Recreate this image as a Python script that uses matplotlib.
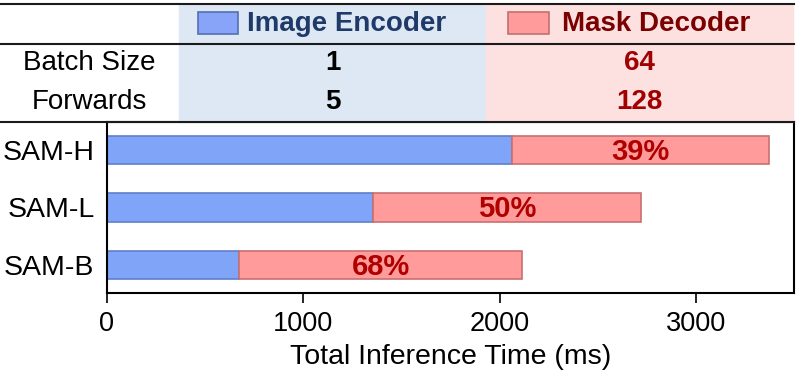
import numpy as np
import matplotlib.pyplot as plt
from matplotlib.patches import Rectangle
from matplotlib.lines import Line2D

plt.rcParams['font.family'] = ['Liberation Sans', 'DejaVu Sans']

# data
models = ['SAM-H', 'SAM-L', 'SAM-B']
encoder_ms = [2063, 1355, 672]
decoder_ms = [1311, 1364, 1443]
row_names = ['Batch Size', 'Forwards']
encoder_cfg = ['1', '5']
decoder_cfg = ['64', '128']

W, H = 798, 373
fig = plt.figure(figsize=(W / 100, H / 100), dpi=100)

def fx(px):
    return px / W

def fy(py):
    return 1 - py / H

ax = fig.add_axes([fx(107), fy(293), fx(794) - fx(107), fy(122) - fy(293)])

blue = '#80a4f8'
blue_edge = '#5f80c8'
red = '#ff9b9b'
red_edge = '#c87070'

y = np.arange(len(models))
ax.barh(y, encoder_ms, height=0.5, color=blue, edgecolor=blue_edge, linewidth=1.2)
ax.barh(y, decoder_ms, left=encoder_ms, height=0.5, color=red, edgecolor=red_edge, linewidth=1.2)

for i in range(len(models)):
    total = encoder_ms[i] + decoder_ms[i]
    pct = round(100 * decoder_ms[i] / total)
    ax.text(encoder_ms[i] + decoder_ms[i] / 2, y[i] + 0.03, f'{pct}%', ha='center', va='center',
            fontsize=21, fontweight='bold', color='#b00000')

ax.set_xlim(0, 3500)
ax.set_ylim(2.49, -0.49)
ax.set_yticks(y)
ax.set_yticklabels(models, fontsize=20.5)
ax.set_xticks([0, 1000, 2000, 3000])
ax.tick_params(axis='x', labelsize=19.5, length=7, width=1.2, pad=6)
ax.tick_params(axis='y', length=0, pad=9)
ax.set_xlabel('Total Inference Time (ms)', fontsize=20.5, labelpad=5)
for s in ax.spines.values():
    s.set_linewidth(1.5)

# header table
fig.patches.append(Rectangle((fx(179), fy(122)), fx(486) - fx(179), fy(4) - fy(122),
                             transform=fig.transFigure, color='#dde8f4', zorder=0))
fig.patches.append(Rectangle((fx(486), fy(122)), fx(793) - fx(486), fy(4) - fy(122),
                             transform=fig.transFigure, color='#fde0e0', zorder=0))
for py in [4, 43.5, 122]:
    fig.lines.append(Line2D([0, fx(794)], [fy(py), fy(py)], transform=fig.transFigure,
                            color='#1a1a1a', linewidth=1.5))

# legend-like header
fig.patches.append(Rectangle((fx(198), fy(34)), fx(238) - fx(198), fy(12) - fy(34),
                             transform=fig.transFigure, facecolor='#87a4f8', edgecolor='#5470b0', linewidth=1.2))
fig.patches.append(Rectangle((fx(508), fy(34)), fx(549) - fx(508), fy(12) - fy(34),
                             transform=fig.transFigure, facecolor='#ff9b9b', edgecolor='#c07070', linewidth=1.2))
fig.text(fx(247), fy(31), 'Image Encoder', fontsize=20, fontweight='bold', color='#1f3a68', va='baseline')
fig.text(fx(562), fy(31), 'Mask Decoder', fontsize=20, fontweight='bold', color='#7b0000', va='baseline')

baselines = [70, 108.5]
for name, enc, dec, b in zip(row_names, encoder_cfg, decoder_cfg, baselines):
    fig.text(fx(89), fy(b), name, fontsize=20, ha='center', va='baseline')
    fig.text(fx(332.5), fy(b), enc, fontsize=20, fontweight='bold', ha='center', va='baseline')
    fig.text(fx(639.5), fy(b), dec, fontsize=20, fontweight='bold', color='#a00000', ha='center', va='baseline')

fig.savefig('out.png', dpi=100)
